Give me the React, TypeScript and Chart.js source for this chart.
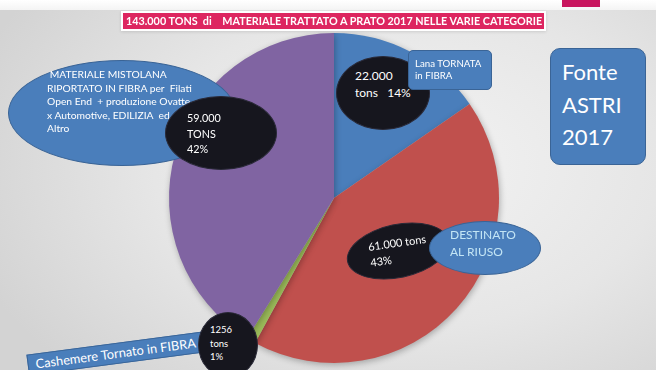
import React, { useEffect, useRef } from "react";
import { Chart, registerables } from "chart.js";

Chart.register(...registerables);

// ---- data ----
const categories = [
  "Lana TORNATA in FIBRA",
  "DESTINATO AL RIUSO",
  "Cashemere Tornato in FIBRA",
  "MATERIALE MISTOLANA RIPORTATO IN FIBRA",
];
const tons = [22000, 61000, 1256, 59000];
const tonLabels = ["22.000", "61.000", "1256", "59.000"];
const percentLabels = ["14%", "43%", "1%", "42%"];
const sliceColors = ["#4a7ebb", "#c0504d", "#9bbb59", "#8064a2"];
const titleText = "143.000 TONS  di    MATERIALE TRATTATO A PRATO 2017 NELLE VARIE CATEGORIE";
const sourceLines = ["Fonte", "ASTRI", "2017"];
const mistoLines = [
  " MATERIALE MISTOLANA",
  "RIPORTATO IN FIBRA per  Filati",
  "Open End  + produzione Ovatte",
  "x Automotive, EDILIZIA  ed",
  "Altro",
];

const FONT = "Lato, 'Open Sans', 'Liberation Sans', sans-serif";
const BLUE = "#4a7ebb";
const BLUE_BORDER = "#3a6496";
const BLACK = "#16161e";

const shadowPlugin = {
  id: "pieShadow",
  beforeDatasetsDraw(chart: any) {
    const ctx = chart.ctx;
    ctx.save();
    ctx.shadowColor = "rgba(0,0,0,0.28)";
    ctx.shadowBlur = 6;
    ctx.shadowOffsetX = 1;
    ctx.shadowOffsetY = 2;
  },
  afterDatasetsDraw(chart: any) {
    chart.ctx.restore();
  },
};

function ellipse(cx: number, cy: number, rx: number, ry: number, bg: string, border: string, rot = 0, z = 1): React.CSSProperties {
  return {
    position: "absolute",
    left: cx - rx,
    top: cy - ry,
    width: rx * 2,
    height: ry * 2,
    borderRadius: "50%",
    background: bg,
    border: `1px solid ${border}`,
    boxSizing: "border-box",
    transform: rot ? `rotate(${rot}deg)` : undefined,
    zIndex: z,
  };
}

function textBlock(left: number, top: number, size: number, lh: number, color = "#fff", z = 2, extra: React.CSSProperties = {}): React.CSSProperties {
  return {
    position: "absolute",
    left,
    top,
    fontSize: size,
    lineHeight: `${lh}px`,
    color,
    fontFamily: FONT,
    whiteSpace: "pre",
    zIndex: z,
    ...extra,
  };
}

export default function App() {
  const canvasRef = useRef<HTMLCanvasElement | null>(null);

  useEffect(() => {
    document.body.style.margin = "0";
    const canvas = canvasRef.current;
    if (!canvas) return;
    const chart = new Chart(canvas, {
      type: "pie",
      data: {
        labels: categories,
        datasets: [
          {
            data: tons,
            backgroundColor: sliceColors,
            borderWidth: 0,
          },
        ],
      },
      options: {
        animation: false,
        responsive: false,
        rotation: 0,
        layout: { padding: { left: 169, right: 157, top: 33, bottom: 7 } },
        plugins: {
          legend: { display: false },
          tooltip: { enabled: false },
          title: { display: false },
        },
      },
      plugins: [shadowPlugin],
    });
    return () => chart.destroy();
  }, []);

  return (
    <div
      style={{
        position: "fixed",
        left: 0,
        top: 0,
        width: 656,
        height: 370,
        overflow: "hidden",
        background:
          "radial-gradient(ellipse 70% 80% at 62% 45%, #f3f3f3 0%, #e6e6e6 55%, #d3d3d3 100%)",
        fontFamily: FONT,
      }}
    >
      {/* top white strip */}
      <div style={{ position: "absolute", left: 0, top: 0, width: 656, height: 10, background: "linear-gradient(#ffffff, #f4f4f4)" }} />
      <div style={{ position: "absolute", left: 562, top: 0, width: 38, height: 7, background: "#c8155e" }} />

      <canvas ref={canvasRef} width={656} height={370} style={{ position: "absolute", left: 0, top: 0, zIndex: 0 }} />

      {/* title bar */}
      <div
        style={{
          position: "absolute",
          left: 123,
          top: 13,
          width: 421,
          height: 16,
          background: "#dd2660",
          boxShadow: "0 0 0 2px #ffffff, 0 1px 3px 2px rgba(0,0,0,0.12)",
          color: "#fff",
          fontWeight: 700,
          fontSize: 10.8,
          lineHeight: "16px",
          whiteSpace: "pre",
          paddingLeft: 3,
          boxSizing: "border-box",
          zIndex: 3,
        }}
      >
        {titleText}
      </div>

      {/* MISTOLANA */}
      <div style={ellipse(122, 113, 114, 53, BLUE, BLUE_BORDER, 0, 1)} />
      <div style={textBlock(47, 68, 10.3, 13.5, "#fff", 2)}>{mistoLines.join("\n")}</div>
      <div style={ellipse(221, 133, 56, 37, BLACK, "#2a2a38", 0, 3)} />
      <div style={textBlock(187, 110, 10.8, 15.5, "#fff", 4)}>{`${tonLabels[3]}\nTONS\n${percentLabels[3]}`}</div>

      {/* Lana */}
      <div style={ellipse(383, 93, 47, 37, BLACK, "#2a2a38", 0, 1)} />
      <div style={textBlock(355, 68, 12, 16.5, "#fff", 2)}>{`${tonLabels[0]}\ntons   ${percentLabels[0]}`}</div>
      <div
        style={{
          position: "absolute",
          left: 408,
          top: 50,
          width: 84,
          height: 40,
          background: BLUE,
          border: `1px solid ${BLUE_BORDER}`,
          borderRadius: 5,
          boxSizing: "border-box",
          zIndex: 3,
        }}
      />
      <div style={textBlock(415, 57, 9.7, 12, "#fff", 4)}>{"Lana TORNATA\nin FIBRA"}</div>

      {/* Destinato */}
      <div style={ellipse(398, 251, 52, 27, BLACK, "#2a2a38", -12, 1)} />
      <div style={textBlock(367, 239, 11, 16, "#fff", 2, { transform: "rotate(-8deg)", transformOrigin: "left top" })}>
        {`${tonLabels[1]} tons\n${percentLabels[1]}`}
      </div>
      <div style={ellipse(485, 248, 56, 27, BLUE, BLUE_BORDER, 0, 3)} />
      <div style={textBlock(450, 226, 12, 17, "#c3e5f5", 4)}>{"DESTINATO\nAL RIUSO"}</div>

      {/* Fonte */}
      <div
        style={{
          position: "absolute",
          left: 550,
          top: 48,
          width: 96,
          height: 117,
          background: BLUE,
          border: `1.5px solid ${BLUE_BORDER}`,
          borderRadius: 10,
          boxSizing: "border-box",
          zIndex: 1,
        }}
      />
      <div style={textBlock(562, 56, 22, 32.5, "#fff", 2)}>{sourceLines.join("\n")}</div>

      {/* Cashemere */}
      <div
        style={{
          position: "absolute",
          left: 116 - 89,
          top: 353 - 10.5,
          width: 178,
          height: 21,
          background: BLUE,
          border: `1px solid ${BLUE_BORDER}`,
          boxSizing: "border-box",
          transform: "rotate(-7.5deg)",
          zIndex: 1,
          color: "#fff",
          fontSize: 12.8,
          lineHeight: "19px",
          paddingLeft: 7,
          whiteSpace: "pre",
        }}
      >
        {categories[2]}
      </div>
      <div style={ellipse(228, 345, 30, 33, BLACK, "#2a2a38", 0, 3)} />
      <div style={textBlock(210, 323, 9.5, 13.5, "#fff", 4)}>{`${tonLabels[2]}\ntons\n${percentLabels[2]}`}</div>
    </div>
  );
}
